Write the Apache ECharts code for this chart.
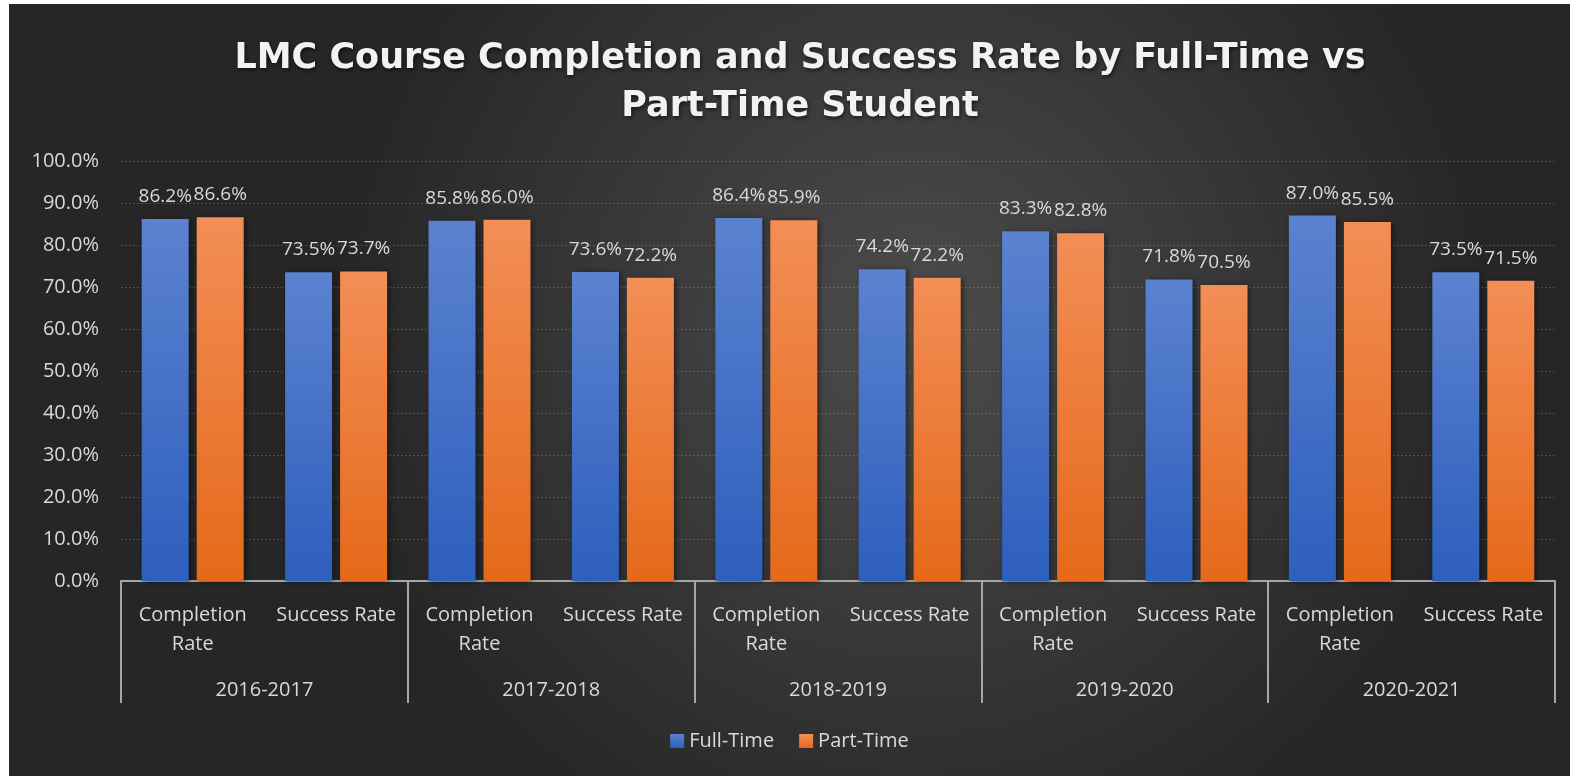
<!DOCTYPE html>
<html>
<head>
<meta charset="utf-8">
<script src="https://cdn.jsdelivr.net/npm/echarts@6/dist/echarts.min.js"></script>
<style>
  html, body { margin: 0; padding: 0; background: #ffffff; }
  #main { position: absolute; left: 9px; top: 4px; width: 1561px; height: 772px; }
</style>
</head>
<body>
<div id="main"></div>
<script>
// data
var years = ['2016-2017', '2017-2018', '2018-2019', '2019-2020', '2020-2021']
var metrics = ['Completion\nRate', 'Success Rate']
var fullTime = [86.2, 73.5, 85.8, 73.6, 86.4, 74.2, 83.3, 71.8, 87.0, 73.5]
var partTime = [86.6, 73.7, 86.0, 72.2, 85.9, 72.2, 82.8, 70.5, 85.5, 71.5]
var yTicks = [0, 10, 20, 30, 40, 50, 60, 70, 80, 90, 100]

var categories = []
years.forEach(function () {
  metrics.forEach(function (m) { categories.push(m) })
})

var myChart = echarts.init(document.getElementById('main'))
window.addEventListener('resize', function () {
  myChart.resize()
})

var font = '"Open Sans", "Noto Sans", sans-serif'
var textColor = '#d9d9d9'

function grad(top, bottom) {
  return new echarts.graphic.LinearGradient(0, 0, 0, 1, [
    { offset: 0, color: top },
    { offset: 1, color: bottom }
  ])
}

var barLabel = {
  show: true,
  position: 'top',
  distance: 13,
  color: textColor,
  fontFamily: font,
  fontSize: 19,
  formatter: function (p) { return p.value.toFixed(1) + '%' }
}

var option = {
  backgroundColor: {
    type: 'radial', x: 0.58, y: 0.42, r: 0.75,
    colorStops: [
      { offset: 0, color: '#4c4c4c' },
      { offset: 1, color: '#262626' }
    ]
  },
  title: {
    text: 'LMC Course Completion and Success Rate by Full-Time vs\nPart-Time Student',
    left: 786,
    top: 26,
    textAlign: 'center',
    textStyle: {
      color: '#f2f2f2',
      fontFamily: '"DejaVu Sans", sans-serif',
      fontWeight: 'bold',
      fontSize: 35,
      lineHeight: 48,
      textShadowColor: 'rgba(0,0,0,0.6)',
      textShadowBlur: 4,
      textShadowOffsetX: 1,
      textShadowOffsetY: 2
    }
  },
  legend: {
    data: ['Full-Time', 'Part-Time'],
    bottom: 20,
    left: 'center',
    itemWidth: 14,
    itemHeight: 14,
    itemGap: 25,
    icon: 'rect',
    textStyle: { color: textColor, fontFamily: font, fontSize: 20 }
  },
  grid: {
    left: 112,
    right: 15,
    top: 157,
    bottom: 195
  },
  xAxis: [
    {
      type: 'category',
      data: categories,
      axisLine: { show: true, lineStyle: { color: '#a6a6a6', width: 2 } },
      axisTick: { show: false },
      axisLabel: {
        interval: 0,
        margin: 20,
        color: textColor,
        fontFamily: font,
        fontSize: 20,
        lineHeight: 29
      }
    },
    {
      type: 'category',
      data: years,
      position: 'bottom',
      axisLine: { show: false },
      axisTick: { show: true, length: 122, lineStyle: { color: '#a6a6a6', width: 2 } },
      axisLabel: {
        interval: 0,
        margin: 99,
        color: textColor,
        fontFamily: font,
        fontSize: 20
      }
    }
  ],
  yAxis: {
    type: 'value',
    min: 0,
    max: 100,
    interval: 10,
    axisLine: { show: false },
    axisTick: { show: false },
    splitLine: { lineStyle: { color: 'rgba(200,200,200,0.25)', type: [2, 2] } },
    axisLabel: {
      margin: 22,
      color: textColor,
      fontFamily: font,
      fontSize: 20,
      customValues: yTicks,
      formatter: function (v) { return v.toFixed(1) + '%' }
    }
  },
  series: [
    {
      name: 'Full-Time',
      type: 'bar',
      data: fullTime,
      barWidth: 47,
      barGap: '17%',
      itemStyle: {
        color: grad('#5b82cf', '#2d5fbd'),
        shadowColor: 'rgba(0,0,0,0.5)',
        shadowBlur: 6,
        shadowOffsetX: 2,
        shadowOffsetY: 1
      },
      label: barLabel
    },
    {
      name: 'Part-Time',
      type: 'bar',
      data: partTime,
      barWidth: 47,
      barGap: '17%',
      itemStyle: {
        color: grad('#f38e56', '#e5691a'),
        shadowColor: 'rgba(0,0,0,0.5)',
        shadowBlur: 6,
        shadowOffsetX: 2,
        shadowOffsetY: 1
      },
      label: barLabel
    }
  ]
}

myChart.setOption(option)
</script>
</body>
</html>
